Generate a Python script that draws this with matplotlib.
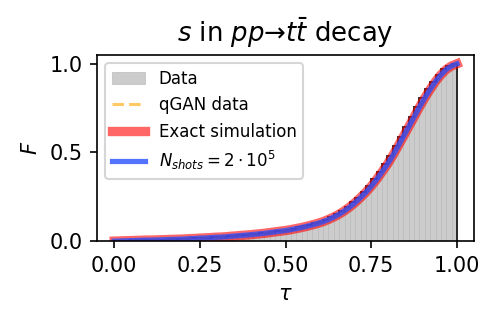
import numpy as np
import matplotlib
matplotlib.use('Agg')
import matplotlib.pyplot as plt

# bin edges (64 bins on [0, 1])
tau_edges = np.linspace(0, 1, 65)

# cumulative distribution at the bin edges
exact_cdf = [0.000, 0.001, 0.002, 0.003, 0.004, 0.005, 0.006, 0.006, 0.007, 0.008,
             0.009, 0.010, 0.011, 0.012, 0.014, 0.015, 0.017, 0.018, 0.020, 0.022,
             0.023, 0.025, 0.028, 0.030, 0.033, 0.035, 0.038, 0.041, 0.044, 0.048,
             0.052, 0.056, 0.060, 0.065, 0.071, 0.077, 0.084, 0.092, 0.100, 0.110,
             0.122, 0.136, 0.152, 0.171, 0.193, 0.218, 0.246, 0.276, 0.310, 0.348,
             0.390, 0.433, 0.482, 0.535, 0.590, 0.645, 0.700, 0.756, 0.808, 0.856,
             0.900, 0.938, 0.968, 0.988, 1.000]
data_cdf = exact_cdf[1:]       # bar heights (value at right edge of each bin)
qgan_cdf = exact_cdf           # qGAN curve, hidden under the others
shots_cdf = exact_cdf          # N_shots = 2e5 estimate

fig = plt.figure(figsize=(3.32, 2.1667), dpi=150)
ax = fig.add_axes([0.195, 0.258, 0.757, 0.573])

h_data = ax.bar(tau_edges[:-1], data_cdf, width=1/64, align='edge', color='#cccccc',
                edgecolor='#b8b8b8', linewidth=0.3, label='Data')
ax.stairs(data_cdf, tau_edges, color='#222222', linewidth=0.9)
h_qgan, = ax.plot(tau_edges, qgan_cdf, '--', color='orange', alpha=0.6, linewidth=1.5,
                  label='qGAN data')
h_exact, = ax.plot(tau_edges, exact_cdf, color='red', alpha=0.6, linewidth=4.5,
                   label='Exact simulation')
h_shots, = ax.plot(tau_edges, shots_cdf, color='#2850ff', alpha=0.8, linewidth=2.5,
                   label=r'$N_{shots}=2\cdot 10^5$')

ax.set_xlim(-0.05, 1.05)
ax.set_ylim(0, 1.05)
ax.set_xticks([0, 0.25, 0.5, 0.75, 1.0])
ax.set_yticks([0, 0.5, 1.0])
ax.set_xlabel(r'$\tau$')
ax.set_ylabel(r'$F$')
ax.set_title(r'$s$ in $pp$→$t\bar{t}$ decay', fontsize=12.5)
ax.legend(handles=[h_data, h_qgan, h_exact, h_shots], loc='upper left', fontsize=8)

fig.savefig('out.png', dpi=150)
